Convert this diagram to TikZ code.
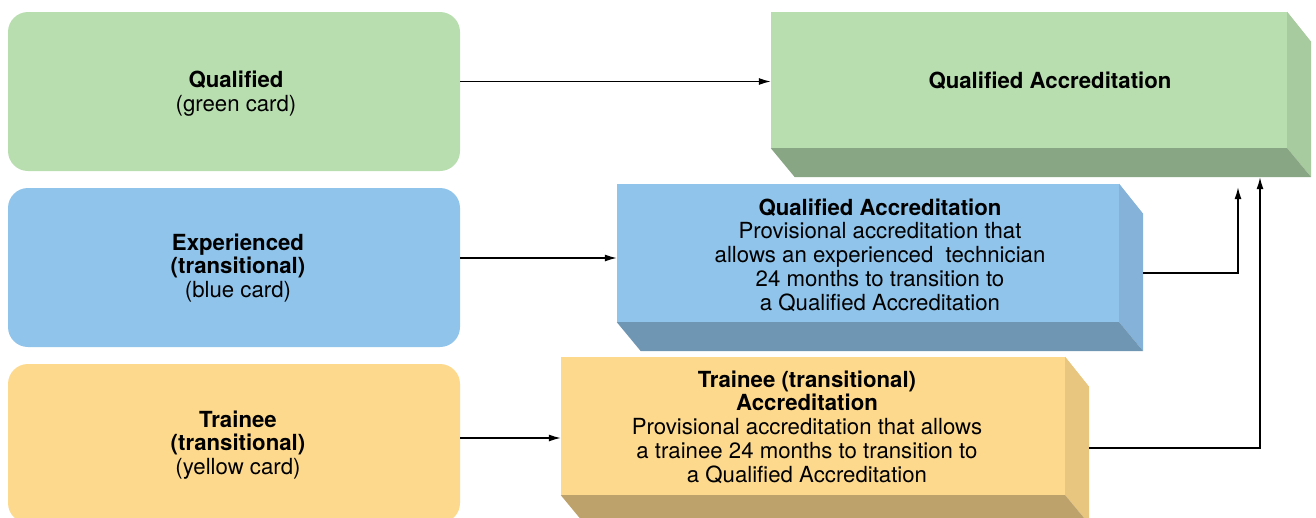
\documentclass[tikz,border=0pt]{standalone}
\usepackage{fontspec}
\setmainfont{TeX Gyre Heros}
\usetikzlibrary{arrows.meta}
\definecolor{gF}{HTML}{B8DEB0}
\definecolor{gS}{HTML}{A8CA9F}
\definecolor{gB}{HTML}{88A683}
\definecolor{bF}{HTML}{90C4EA}
\definecolor{bS}{HTML}{84B2D8}
\definecolor{bB}{HTML}{6F96B3}
\definecolor{yF}{HTML}{FDD98E}
\definecolor{yS}{HTML}{E8C680}
\definecolor{yB}{HTML}{BDA26C}
\tikzset{
  card/.style={rounded corners=20pt, draw=none, minimum width=452pt, inner sep=0pt},
  front/.style={draw=none, inner sep=0pt},
  txt/.style={align=center, inner sep=0pt, font=\fontsize{22.2}{23.8}\selectfont},
  arr/.style={line width=1.3pt, -{Latex[length=12pt,width=7pt]}},
}
\newcommand{\extrude}[3]{% node, side colour, bottom colour
  \fill[#2] (#1.north east) -- ++(24pt,-30pt) -- ([shift={(24pt,-29pt)}]#1.south east) -- (#1.south east) -- cycle;
  \fill[#3] (#1.south west) -- (#1.south east) -- ++(24pt,-29pt) -- ([shift={(24pt,-29pt)}]#1.south west) -- cycle;
}
\begin{document}
\begin{tikzpicture}[x=1pt,y=-1pt]
\useasboundingbox (0,0) rectangle (1316,517);
\clip (0,0) rectangle (1316,517);
% left cards
\node[card, fill=gF, minimum height=159pt] (q) at (234,91.5) {};
\node[card, fill=bF, minimum height=159pt] (e) at (234,267.5) {};
\node[card, fill=yF, minimum height=159pt] (t) at (234,443.5) {};
\node[txt] (qt) at (236,94) {\textbf{Qualified}\\(green card)};
\node[txt] (et) at (238,268) {\textbf{Experienced}\\\textbf{(transitional)}\\(blue card)};
\node[txt] (tt) at (238,445) {\textbf{Trainee}\\\textbf{(transitional)}\\(yellow card)};
% right boxes
\node[front, fill=gF, minimum width=516pt, minimum height=136pt] (qa) at (1029,80) {};
\extrude{qa}{gS}{gB}
\node[front, fill=bF, minimum width=502pt, minimum height=138pt] (ea) at (868,253) {};
\extrude{ea}{bS}{bB}
\node[front, fill=yF, minimum width=504pt, minimum height=138pt] (ta) at (813,426) {};
\extrude{ta}{yS}{yB}
\node[txt] (qat) at (1050,81) {\textbf{Qualified Accreditation}};
\node[txt] (eat) at (880,255) {\textbf{Qualified Accreditation}\\Provisional accreditation that\\allows an experienced\ \ technician\\24 months to transition to\\a Qualified Accreditation};
\node[txt] (tat) at (807,427) {\textbf{Trainee (transitional)}\\\textbf{Accreditation}\\Provisional accreditation that allows\\a trainee 24 months to transition to\\a Qualified Accreditation};
% connectors
\draw[arr] ([yshift=10pt]q.east) coordinate (a1) -- (a1 -| qa.west);
\draw[arr] ([yshift=9.5pt]e.east) coordinate (a2) -- (a2 -| ea.west);
\draw[arr] ([yshift=5.5pt]t.east) coordinate (a3) -- (a3 -| ta.west);
\coordinate (qab) at ([yshift=-29pt]qa.south);
\coordinate (es) at ([shift={(24pt,-20pt)}]ea.east);
\coordinate (ts) at ([shift={(24pt,-22pt)}]ta.east);
\coordinate (c1) at (1238,0);
\coordinate (c2) at (1260,0);
\draw[arr, shorten >=10pt] (es) -- (es -| c1) -- (c1 |- qab);
\draw[arr] (ts) -- (ts -| c2) -- (c2 |- qab);
\end{tikzpicture}
\end{document}
